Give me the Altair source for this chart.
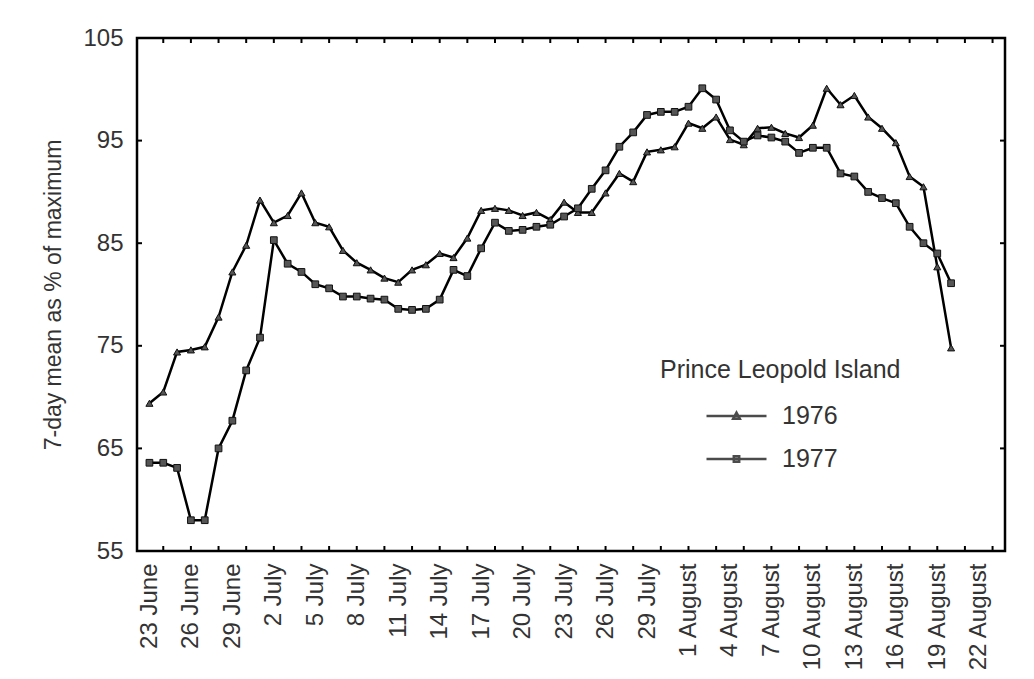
import altair as alt
import pandas as pd

# day index: 0 = 23 June
days = list(range(59))
values_1976 = [69.4, 70.5, 74.4, 74.6, 74.9, 77.8, 82.2, 84.8, 89.2, 87.0,
               87.7, 89.9, 87.0, 86.6, 84.3, 83.1, 82.4, 81.6, 81.2, 82.4,
               82.9, 84.0, 83.6, 85.5, 88.2, 88.4, 88.2, 87.7, 88.0, 87.3,
               89.0, 88.0, 88.0, 89.9, 91.8, 91.0, 93.9, 94.1, 94.4, 96.7,
               96.2, 97.3, 95.1, 94.6, 96.2, 96.3, 95.7, 95.3, 96.5, 100.1,
               98.5, 99.4, 97.3, 96.2, 94.8, 91.5, 90.5, 82.7, 74.8]
values_1977 = [63.6, 63.6, 63.1, 58.0, 58.0, 65.0, 67.7, 72.6, 75.8, 85.3,
               83.0, 82.2, 81.0, 80.6, 79.8, 79.8, 79.6, 79.5, 78.6, 78.5,
               78.6, 79.5, 82.4, 81.8, 84.5, 87.0, 86.2, 86.3, 86.6, 86.8,
               87.6, 88.4, 90.3, 92.1, 94.4, 95.8, 97.5, 97.8, 97.8, 98.3,
               100.1, 99.0, 96.0, 94.9, 95.5, 95.3, 94.9, 93.8, 94.3, 94.3,
               91.8, 91.5, 90.0, 89.4, 88.9, 86.6, 85.0, 84.0, 81.1]
years = ["1976", "1977"]

tick_label_days = list(range(0, 61, 3))
tick_labels = ["23 June", "26 June", "29 June", "2 July", "5 July", "8 July",
               "11 July", "14 July", "17 July", "20 July", "23 July", "26 July",
               "29 July", "1 August", "4 August", "7 August", "10 August",
               "13 August", "16 August", "19 August", "22 August"]
minor_tick_days = list(range(1, 62, 2))
y_ticks = [55, 65, 75, 85, 95, 105]
y_inner_ticks = [65, 75, 85, 95]

FONT = "Liberation Sans"
W, H = 868, 513

df = pd.DataFrame({
    "day": days * 2,
    "value": values_1976 + values_1977,
    "year": ["1976"] * len(days) + ["1977"] * len(days),
})

label_array = "[" + ",".join("'" + t + "'" for t in tick_labels) + "]"

x_scale = alt.Scale(domain=[-0.9, 61.9], nice=False, zero=False)
y_scale = alt.Scale(domain=[55, 105], nice=False, zero=False)

x_axis = alt.Axis(values=tick_label_days,
                  labelExpr=label_array + "[round(datum.value/3)]",
                  title=None, grid=False, ticks=False, domain=False,
                  labelAngle=270, labelAlign="right", labelBaseline="middle",
                  labelPadding=12, labelFontSize=24, labelFont=FONT,
                  labelColor="#333", labelOverlap=False, labelLimit=200)
y_axis = alt.Axis(values=y_ticks, title="7-day mean as % of maximum",
                  grid=False, ticks=False, domain=False,
                  labelPadding=14, labelFontSize=24, labelFont=FONT,
                  labelColor="#333", titleFont=FONT, titleFontSize=23,
                  titleFontWeight="normal", titleColor="#333",
                  titlePadding=17, titleLimit=500)

X = alt.X("day:Q", scale=x_scale, axis=x_axis)
Y = alt.Y("value:Q", scale=y_scale, axis=y_axis)

base = alt.Chart(df)

lines = base.mark_line(color="black", strokeWidth=2.5).encode(
    x=X, y=Y, detail="year:N")

pts76 = base.transform_filter(alt.datum.year == "1976").mark_point(
    shape="triangle-up", size=50, filled=True, fill="#555", stroke="#111",
    strokeWidth=1, opacity=1).encode(x=X, y=Y)

pts77 = base.transform_filter(alt.datum.year == "1977").mark_point(
    shape="square", size=45, filled=True, fill="#555", stroke="#111",
    strokeWidth=1, opacity=1).encode(x=X, y=Y)

sym76 = "M-1,0L1,0M-0.11,0.09L0,-0.11L0.11,0.09Z"
sym77 = "M-1,0L1,0M-0.09,-0.09L0.09,-0.09L0.09,0.09L-0.09,0.09Z"

legend_layer = base.transform_filter("datum.value < 0").mark_point(
    filled=False, stroke="black", strokeWidth=2.5).encode(
    shape=alt.Shape("year:N", scale=alt.Scale(domain=years, range=[sym76, sym77]),
                    legend=alt.Legend(title="Prince Leopold Island", orient="none",
                                      legendX=523, legendY=320, padding=0,
                                      titleFont=FONT, titleFontSize=25,
                                      titleFontWeight="normal", titleColor="#333",
                                      titleLimit=400, labelLimit=200,
                                      titlePadding=22, labelFont=FONT, labelFontSize=25,
                                      labelColor="#333", symbolSize=3600,
                                      symbolStrokeWidth=2.5, symbolStrokeColor="black",
                                      symbolFillColor="#555", symbolOffset=45,
                                      labelOffset=14, clipHeight=22, rowPadding=18)))

tick_df_x = pd.DataFrame({"day": minor_tick_days})
tick_df_y = pd.DataFrame({"value": y_inner_ticks})

bottom_ticks = alt.Chart(tick_df_x).mark_rule(color="black", strokeWidth=2).encode(
    x=X, y=alt.value(H), y2=alt.value(H - 5))
top_ticks = alt.Chart(tick_df_x).mark_rule(color="black", strokeWidth=2).encode(
    x=X, y=alt.value(0), y2=alt.value(5))
left_ticks = alt.Chart(tick_df_y).mark_rule(color="black", strokeWidth=2).encode(
    y=Y, x=alt.value(0), x2=alt.value(5))
right_ticks = alt.Chart(tick_df_y).mark_rule(color="black", strokeWidth=2).encode(
    y=Y, x=alt.value(W), x2=alt.value(W - 5))

chart = alt.layer(lines, pts76, pts77, legend_layer,
                  bottom_ticks, top_ticks, left_ticks, right_ticks).properties(
    width=W, height=H,
    autosize=alt.AutoSizeParams(type="none"),
    padding={"left": 129, "top": 30, "right": 21, "bottom": 120},
    background="white",
).configure_view(stroke="black", strokeWidth=2.5)

chart.save("out.html", embed_options={"renderer": "svg", "actions": False})
